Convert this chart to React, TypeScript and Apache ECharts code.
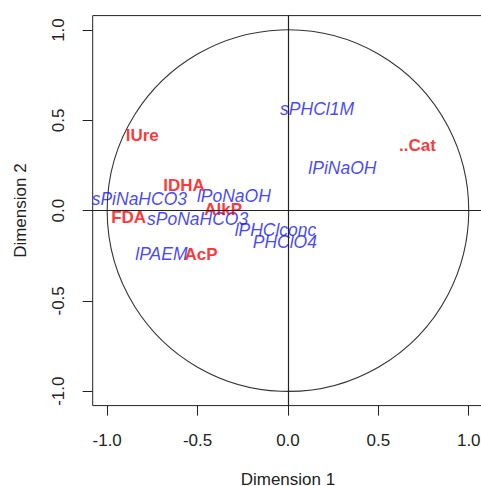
import React, { useEffect, useRef } from "react";
import * as echarts from "echarts";

const tickValues = [-1, -0.5, 0, 0.5, 1];
const axisMin = -1.08;
const axisMax = 1.08;

const redLabels = ["lUre", "lDHA", "AlkP", "FDA", "AcP", "..Cat"];
const redDim1 = [-0.806, -0.575, -0.358, -0.881, -0.481, 0.716];
const redDim2 = [0.418, 0.138, 0.004, -0.037, -0.243, 0.362];

const blueLabels = ["sPHCl1M", "lPiNaOH", "sPiNaHCO3", "lPoNaOH", "sPoNaHCO3", "lPHClconc", "PHClO4", "lPAEM"];
const blueDim1 = [0.161, 0.301, -0.822, -0.299, -0.5, -0.069, -0.017, -0.7];
const blueDim2 = [0.562, 0.238, 0.063, 0.081, -0.045, -0.107, -0.176, -0.24];

const FONT = "'Liberation Sans', Arial, sans-serif";

export default function App() {
  const ref = useRef<HTMLDivElement>(null);
  useEffect(() => {
    document.body.style.margin = "0";
    if (!ref.current) return;
    const chart = echarts.init(ref.current, undefined, { renderer: "svg" });
    const redData = redLabels.map((n, i) => [redDim1[i], redDim2[i], n]);
    const blueData = blueLabels.map((n, i) => [blueDim1[i], blueDim2[i], n]);
    const axisCommon = {
      type: "value",
      min: axisMin,
      max: axisMax,
      splitLine: { show: false },
      axisLine: { show: false, onZero: false },
      axisTick: { show: true, customValues: tickValues, length: 10, lineStyle: { color: "#222", width: 1 } },
      axisLabel: {
        customValues: tickValues,
        formatter: (v: number) => v.toFixed(1),
        fontFamily: FONT,
        fontSize: 17,
        color: "#222",
        margin: 26,
      },
      nameLocation: "middle",
      nameTextStyle: { fontFamily: FONT, fontSize: 17, color: "#222" },
    };
    chart.setOption({
      animation: false,
      backgroundColor: "#fff",
      grid: {
        left: 92.7,
        top: 15.6,
        width: 390.5,
        height: 390,
        show: true,
        borderColor: "#222",
        borderWidth: 1,
        containLabel: false,
        outerBoundsMode: "none",
      },
      xAxis: { ...axisCommon, name: "Dimension 1", nameGap: 65 },
      yAxis: {
        ...axisCommon,
        name: "Dimension 2",
        nameGap: 64,
        axisLabel: { ...axisCommon.axisLabel, rotate: 90 },
      },
      series: [
        {
          type: "custom",
          silent: true,
          data: [[0, 0]],
          renderItem: (params: any, api: any) => {
            const c = api.coord([0, 0]);
            const s = api.size([1, 1]);
            return {
              type: "circle",
              shape: { cx: c[0], cy: c[1], r: s[0] },
              style: { fill: "none", stroke: "#333", lineWidth: 1.1 },
            };
          },
          z: 1,
        },
        {
          type: "scatter",
          silent: true,
          symbolSize: 0,
          data: [],
          markLine: {
            silent: true,
            symbol: "none",
            label: { show: false },
            lineStyle: { color: "#222", width: 1.2, type: "solid" },
            data: [{ xAxis: 0 }, { yAxis: 0 }],
          },
          z: 2,
        },
        {
          type: "scatter",
          silent: true,
          symbolSize: 0,
          data: blueData,
          label: {
            show: true,
            position: "inside",
            formatter: (p: any) => p.data[2],
            color: "#1414ff",
            fontFamily: FONT,
            fontSize: 17.5,
            fontStyle: "italic",
            align: "center",
            verticalAlign: "middle",
          },
          z: 3,
        },
        {
          type: "scatter",
          silent: true,
          symbolSize: 0,
          data: redData,
          label: {
            show: true,
            position: "inside",
            formatter: (p: any) => p.data[2],
            color: "#ff0000",
            fontFamily: FONT,
            fontSize: 17,
            fontWeight: "bold",
            align: "center",
            verticalAlign: "middle",
          },
          z: 4,
        },
      ],
    });
    return () => chart.dispose();
  }, []);
  return <div ref={ref} style={{ width: 481, height: 486 }} />;
}
